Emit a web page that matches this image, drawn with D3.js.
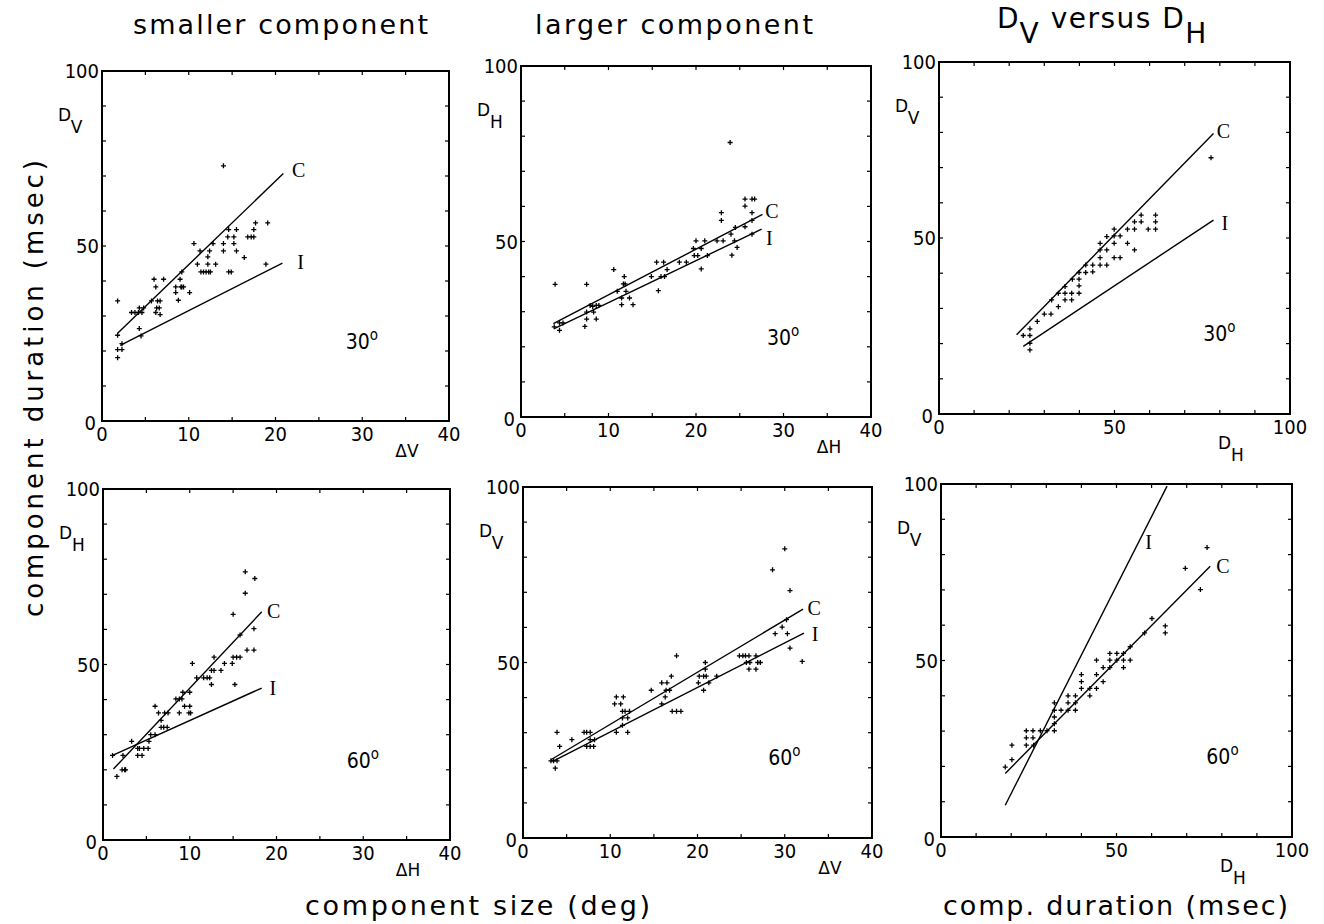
<!DOCTYPE html>
<html>
<head>
<meta charset="utf-8">
<script src="https://cdn.jsdelivr.net/npm/d3@7"></script>
<style>
  body { margin: 0; background: #fff; }
</style>
</head>
<body>
<div id="chart"></div>
<script>
// Data: [component size or D_H, duration]
const p1Points = [[1.8,34.3],[1.8,24.5],[2.3,22.1],[1.8,20.4],[2.3,20.4],[1.8,18.1],[3.4,31],[3.8,31],[4.2,31],[4.6,31],
  [4.3,32.3],[4.8,32.3],[4.3,26.4],[4.5,24.3],[5.7,34.3],[6.0,40.5],[6.2,38.3],[6.2,31],[6.3,32.3],[6.6,32.3],
  [6.4,34.3],[6.7,34.3],[6.7,30.4],[7.1,40.5],[8.5,38.3],[8.5,36.7],[8.8,34.5],[9.0,40.5],[9.1,38.3],[9.2,38.3],
  [9.4,38.3],[9.2,42.6],[10.1,36.7],[10.6,50.7],[11.0,44.8],[11.3,48.6],[11.4,42.6],[11.7,42.6],[12.0,42.6],[12.3,42.6],
  [12.5,42.6],[12.2,46.9],[12.2,44.8],[12.4,48.6],[12.8,50.7],[13.1,44.8],[14.0,50.7],[14.0,48.6],[14.0,72.9],[14.5,52.6],
  [14.6,54.7],[14.6,42.6],[14.9,42.6],[15.2,52.6],[15.2,50.7],[15.5,54.7],[15.5,48.6],[16.4,46.7],[16.8,52.6],[17.2,52.6],
  [17.5,52.6],[17.5,54.7],[17.7,56.6],[19.1,56.6],[18.9,44.8]];

const p2Points = [[3.9,37.8],[3.8,25.7],[4.4,26.8],[4.8,26.8],[4.4,24.7],[7.5,37.8],[7.3,25.8],[7.5,27.9],[7.5,29.9],[7.9,31.8],
  [8.2,31.5],[8.3,29.9],[8.6,27.9],[8.6,31.8],[8.9,31.8],[10.6,42.0],[11.0,35.8],[11.5,33.9],[11.5,32.0],[11.7,37.9],
  [11.9,37.9],[11.8,40.0],[12.0,35.8],[12.4,33.9],[12.8,32.0],[14.9,40.0],[15.5,44.1],[16.3,44.1],[15.7,36.0],[16.0,40.0],
  [16.4,40.0],[16.7,42.0],[18.1,44.1],[18.9,44.1],[19.7,48.0],[20.0,50.2],[19.8,46.0],[20.2,46.0],[20.6,42.2],[20.6,48.0],
  [21.0,50.2],[21.3,46.0],[22.4,50.2],[22.9,58.2],[22.9,56.0],[23.1,50.2],[23.9,78.2],[24.0,52.1],[24.1,46.1],[24.4,50.2],
  [24.5,54.0],[24.7,48.3],[25.6,62.1],[25.6,60.1],[25.6,54.2],[26.4,62.1],[26.7,62.1],[26.4,58.2],[26.4,56.0],[26.4,52.1]];

const p3Points = [[24.0,22.3],[25.9,22.3],[25.9,24.2],[25.9,20.1],[25.9,18.2],[28.0,26.3],[30.0,28.4],[31.9,28.4],[32.1,32.4],[34.0,30.5],
  [34.0,34.3],[35.9,36.2],[35.9,34.3],[35.9,32.4],[37.8,34.3],[37.8,32.4],[38.0,38.3],[39.9,34.3],[39.9,36.4],[39.9,38.3],
  [39.9,40.2],[41.8,40.2],[41.8,42.3],[43.8,42.3],[43.8,40.4],[45.9,48.5],[45.9,46.6],[45.9,44.4],[45.9,42.3],[47.8,50.4],
  [47.8,46.6],[47.8,42.3],[49.9,52.5],[49.9,50.6],[49.9,48.5],[49.9,44.4],[51.6,50.6],[51.6,44.4],[53.7,52.5],[53.7,48.5],
  [55.7,54.6],[55.7,52.5],[55.7,46.6],[57.6,56.5],[57.6,54.6],[59.6,52.5],[61.7,56.5],[61.7,54.6],[61.7,52.5],[77.5,72.8]];

const p4Points = [[1.1,24.1],[1.6,18.1],[2.2,20.0],[2.5,20.0],[2.6,20.0],[2.3,24.1],[3.3,28.1],[4.0,26.1],[4.2,26.1],[4.0,24.1],
  [4.5,24.1],[4.7,26.1],[5.2,26.1],[5.3,28.1],[5.5,30.0],[6.0,30.0],[6.0,38.1],[6.4,36.2],[6.7,34.1],[6.7,32.1],
  [7.0,32.1],[7.4,32.1],[7.1,36.2],[7.5,36.2],[8.4,40.2],[8.8,40.2],[8.8,36.2],[9.1,40.2],[9.2,42.1],[9.4,38.1],
  [10.0,38.1],[10.0,42.1],[9.9,36.2],[10.1,36.2],[10.3,50.3],[10.8,46.2],[11.6,46.2],[12.0,46.2],[12.3,46.2],[12.5,44.3],
  [12.5,48.3],[12.8,48.3],[12.8,52.1],[13.6,48.3],[14.0,50.3],[14.9,50.3],[15.0,52.1],[15.2,44.3],[15.0,64.3],[15.4,52.1],
  [15.8,52.1],[15.8,58.4],[16.4,76.4],[16.4,70.3],[16.6,54.1],[17.4,54.1],[17.4,60.2],[17.5,74.5]];

const p5Points = [[3.2,22.0],[3.5,22.0],[3.9,22.0],[3.7,19.9],[3.9,30.1],[4.2,26.1],[5.6,28.0],[7.0,30.1],[7.3,30.1],[7.7,30.1],
  [7.3,26.1],[7.7,26.1],[8.1,26.1],[7.7,28.0],[8.2,28.0],[10.5,38.2],[10.7,40.2],[11.2,38.2],[11.5,40.2],[10.7,30.1],
  [11.4,36.1],[11.7,36.1],[12.2,36.1],[11.4,34.2],[12.0,34.2],[11.4,32.1],[12.0,30.1],[14.7,42.1],[15.9,44.2],[16.5,44.2],
  [15.9,38.2],[16.3,40.2],[16.4,42.1],[16.8,42.1],[17.0,46.1],[17.1,36.1],[17.6,36.1],[18.1,36.1],[17.6,51.9],[20.1,44.2],
  [20.2,46.1],[20.7,46.1],[21.0,46.1],[20.7,42.1],[20.9,48.1],[20.9,50.0],[21.3,44.2],[22.2,46.1],[24.8,51.9],[25.2,51.9],
  [25.5,51.9],[25.9,51.9],[25.6,50.0],[26.0,50.0],[25.9,48.1],[26.7,51.9],[26.9,50.0],[27.2,50.0],[26.7,48.1],[28.6,76.4],
  [30.0,82.4],[30.6,70.5],[28.9,58.2],[29.7,60.1],[30.2,62.2],[30.3,58.2],[30.6,54.1],[32.0,50.3]];

const p6Points = [[18.3,19.8],[20.2,21.9],[20.2,26.0],[24.3,26.0],[24.3,28.1],[24.3,30.1],[26.2,30.1],[26.2,28.1],[26.4,26.0],[28.3,30.1],
  [30.2,30.1],[32.3,30.1],[32.3,32.1],[32.3,34.0],[32.3,35.9],[32.3,38.0],[34.2,35.9],[36.2,35.9],[36.2,38.0],[36.2,40.0],
  [38.3,40.0],[38.3,38.0],[38.3,35.9],[40.0,42.1],[40.0,44.0],[40.0,46.0],[42.4,42.1],[42.4,40.0],[44.3,42.1],[44.3,46.0],
  [44.3,50.1],[46.2,44.0],[46.2,48.0],[48.1,50.1],[48.1,52.0],[48.1,48.0],[50.1,52.0],[50.1,50.1],[52.0,52.0],[52.0,50.1],
  [52.0,48.0],[53.9,50.1],[53.9,53.9],[58.0,57.8],[60.1,61.9],[63.9,59.8],[63.9,57.8],[69.6,76.1],[73.9,70.1],[75.8,82.0]];

// Fitted lines C and I, as end points
const p1Lines = { C: [[1.8,25.1],[20.9,70.7]], I: [[2.1,21.6],[20.8,45.1]] };
const p2Lines = { C: [[3.7,26.6],[27.6,57.7]], I: [[3.8,25.2],[27.5,53.5]] };
const p3Lines = { C: [[22.1,22.5],[78.2,79.7]], I: [[24.0,19.2],[78.2,55.1]] };
const p4Lines = { C: [[1.2,20.2],[18.3,65.0]], I: [[1.1,24.1],[18.3,43.3]] };
const p5Lines = { C: [[3.2,22.3],[32.1,65.2]], I: [[3.4,21.8],[32.2,58.4]] };
const p6Lines = { C: [[18.3,18.0],[76.7,76.7]], I: [[18.3,9.0],[64.4,99.4]] };

// where the C / I letters sit (data units)
const p1Marks = { C: [21.9,69.7], I: [22.5,43.5] };
const p2Marks = { C: [27.9,56.8], I: [28.0,49.1] };
const p3Marks = { C: [79.1,78.3], I: [80.5,52.3] };
const p4Marks = { C: [18.9,63.3], I: [19.2,41.4] };
const p5Marks = { C: [32.6,63.6], I: [33.1,56.0] };
const p6Marks = { C: [78.4,74.7], I: [58.2,81.5] };

const sizeTicks = [0, 10, 20, 30, 40];
const durTicks = [0, 50, 100];
const titles = ["smaller component", "larger component"];

let width = 1324;
let height = 924;

let svg = d3.select('#chart')
  .append('svg')
  .attr('width', width)
  .attr('height', height)
  .style('background', '#fff');

const numFont = "'Liberation Sans Narrow', 'DejaVu Sans Condensed', sans-serif";
const textFont = "'DejaVu Sans', sans-serif";
const serif = "'Liberation Serif', serif";

// panel frames in pixels
const panels = [
  { box: [102, 71, 449, 421], xmax: 40, pts: p1Points, lines: p1Lines, marks: p1Marks, yl: ['D','V'], xl: 'ΔV', deg: '30', degAt: [28.1, 20.7] },
  { box: [521, 66, 871, 417], xmax: 40, pts: p2Points, lines: p2Lines, marks: p2Marks, yl: ['D','H'], xl: 'ΔH', deg: '30', degAt: [28.1, 20.5] },
  { box: [939, 62, 1290, 414], xmax: 100, pts: p3Points, lines: p3Lines, marks: p3Marks, yl: ['D','V'], xl: null, deg: '30', degAt: [75.3, 20.6] },
  { box: [103, 489, 450, 840], xmax: 40, pts: p4Points, lines: p4Lines, marks: p4Marks, yl: ['D','H'], xl: 'ΔH', deg: '60', degAt: [28.1, 20.5] },
  { box: [523, 487, 872, 838], xmax: 40, pts: p5Points, lines: p5Lines, marks: p5Marks, yl: ['D','V'], xl: 'ΔV', deg: '60', degAt: [28.1, 20.9] },
  { box: [941, 484, 1292, 837], xmax: 100, pts: p6Points, lines: p6Lines, marks: p6Marks, yl: ['D','V'], xl: null, deg: '60', degAt: [75.6, 20.8] }
];

panels.forEach(function(p) {
  const [l, t, r, b] = p.box;
  const x = d3.scaleLinear().domain([0, p.xmax]).range([l, r]);
  const y = d3.scaleLinear().domain([0, 100]).range([b, t]);
  const g = svg.append('g');

  // frame
  g.append('rect')
    .attr('x', l).attr('y', t)
    .attr('width', r - l).attr('height', b - t)
    .attr('fill', 'none')
    .attr('stroke', '#000')
    .attr('stroke-width', 2);

  // inward ticks on all four sides
  const xt = d3.range(0, p.xmax + 0.1, p.xmax === 40 ? 5 : 10);
  const yt = d3.range(0, 100.1, 10);
  g.selectAll('.xtb').data(xt).enter().append('line')
    .attr('x1', d => x(d)).attr('x2', d => x(d))
    .attr('y1', b).attr('y2', b - 4)
    .attr('stroke', '#000').attr('stroke-width', 1.2);
  g.selectAll('.xtt').data(xt).enter().append('line')
    .attr('x1', d => x(d)).attr('x2', d => x(d))
    .attr('y1', t).attr('y2', t + 4)
    .attr('stroke', '#000').attr('stroke-width', 1.2);
  g.selectAll('.ytl').data(yt).enter().append('line')
    .attr('x1', l).attr('x2', l + 4)
    .attr('y1', d => y(d)).attr('y2', d => y(d))
    .attr('stroke', '#000').attr('stroke-width', 1.2);
  g.selectAll('.ytr').data(yt).enter().append('line')
    .attr('x1', r).attr('x2', r - 4)
    .attr('y1', d => y(d)).attr('y2', d => y(d))
    .attr('stroke', '#000').attr('stroke-width', 1.2);

  // tick labels
  const xLabels = p.xmax === 40 ? sizeTicks : durTicks;
  g.selectAll('.xl').data(xLabels).enter().append('text')
    .attr('x', d => x(d))
    .attr('y', b + 20)
    .attr('text-anchor', 'middle')
    .style('font-family', numFont)
    .style('font-size', '20px')
    .text(d => d);
  g.selectAll('.yl').data(durTicks).enter().append('text')
    .attr('x', d => d === 0 ? l - 6 : l - 3)
    .attr('y', d => y(d) + (d === 0 ? 9 : 7))
    .attr('text-anchor', 'end')
    .style('font-family', numFont)
    .style('font-size', '20px')
    .text(d => d);

  // D label at top left
  const dl = g.append('text')
    .attr('x', l - 44)
    .attr('y', t + 50)
    .style('font-family', textFont)
    .style('font-size', '17px');
  dl.append('tspan').text(p.yl[0]);
  dl.append('tspan').attr('dy', 12).text(p.yl[1]);

  // x label at bottom right
  if (p.xl) {
    g.append('text')
      .attr('x', r - 42)
      .attr('y', b + 36)
      .attr('text-anchor', 'middle')
      .style('font-family', textFont)
      .style('font-size', '17px')
      .text(p.xl);
  } else {
    const hl = g.append('text')
      .attr('x', r - 72)
      .attr('y', b + 35)
      .style('font-family', textFont)
      .style('font-size', '17px');
    hl.append('tspan').text('D');
    hl.append('tspan').attr('dy', 12).text('H');
  }

  // fitted lines
  ['C', 'I'].forEach(function(k) {
    g.append('path')
      .datum(p.lines[k])
      .attr('fill', 'none')
      .attr('stroke', '#000')
      .attr('stroke-width', 1.4)
      .attr('d', d3.line().x(d => x(d[0])).y(d => y(d[1])));
    g.append('text')
      .attr('x', x(p.marks[k][0]))
      .attr('y', y(p.marks[k][1]))
      .style('font-family', serif)
      .style('font-size', '20px')
      .text(k);
  });

  // data points as small crosses
  g.selectAll('.pt').data(p.pts).enter().append('path')
    .attr('d', d => `M${x(d[0]) - 2.5},${y(d[1])}h5M${x(d[0])},${y(d[1]) - 2.5}v5`)
    .attr('stroke', '#000')
    .attr('stroke-width', 1.3);

  // angle label
  const dg = g.append('text')
    .attr('x', x(p.degAt[0]))
    .attr('y', y(p.degAt[1]))
    .style('font-family', numFont)
    .style('font-size', '21px');
  dg.append('tspan').text(p.deg);
  dg.append('tspan').attr('dy', -9).style('font-size', '15px').text('o');
});

// column titles
svg.append('text')
  .attr('x', 133).attr('y', 34)
  .attr('textLength', 295).attr('lengthAdjust', 'spacing')
  .style('font-family', textFont).style('font-size', '27px')
  .text(titles[0]);
svg.append('text')
  .attr('x', 535).attr('y', 34)
  .attr('textLength', 278).attr('lengthAdjust', 'spacing')
  .style('font-family', textFont).style('font-size', '27px')
  .text(titles[1]);
const t3 = svg.append('text')
  .attr('x', 997).attr('y', 28)
  .style('font-family', textFont).style('font-size', '28px')
  .style('letter-spacing', '1.5px');
t3.append('tspan').text('D');
t3.append('tspan').attr('dy', 15).text('V');
t3.append('tspan').attr('dy', -15).text(' versus D');
t3.append('tspan').attr('dy', 15).text('H');

// axis titles
svg.append('text')
  .attr('transform', 'translate(43, 617) rotate(-90)')
  .attr('textLength', 457).attr('lengthAdjust', 'spacing')
  .style('font-family', textFont).style('font-size', '26px')
  .text('component duration (msec)');
svg.append('text')
  .attr('x', 305).attr('y', 915)
  .attr('textLength', 345).attr('lengthAdjust', 'spacing')
  .style('font-family', textFont).style('font-size', '27px')
  .text('component size (deg)');
svg.append('text')
  .attr('x', 943).attr('y', 915)
  .attr('textLength', 345).attr('lengthAdjust', 'spacing')
  .style('font-family', textFont).style('font-size', '27px')
  .text('comp. duration (msec)');
</script>
</body>
</html>
